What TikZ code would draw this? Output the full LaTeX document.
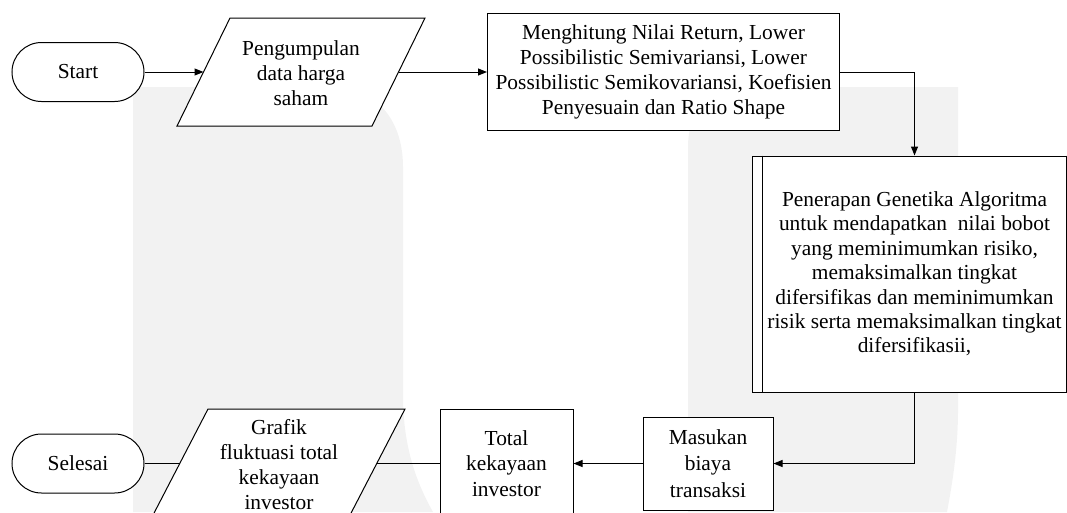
\documentclass[tikz,border=0pt]{standalone}
\usepackage{fontspec}
\setmainfont{Liberation Serif}
\usetikzlibrary{arrows.meta,calc}
\begin{document}
\begin{tikzpicture}[x=1pt,y=-1pt,
  every node/.style={font=\fontsize{21.4}{25}\selectfont, align=center, inner sep=0pt},
  proc/.style={draw, fill=white, line width=1pt},
  term/.style={draw, fill=white, line width=1pt, rounded corners=29.5pt, minimum width=132pt, minimum height=59pt},
  conn/.style={line width=1pt},
  arr/.style={conn, -{Triangle[length=9pt,width=7pt]}},
  wm/.style={fill=black!5, draw=none}]
\useasboundingbox (0,0) rectangle (1067,512);
\clip (0,0) rectangle (1067,512);
% watermark
\fill[wm] (133,87) -- (333,87) .. controls (373,87) and (403,117) .. (403,167) -- (403,395) .. controls (403,450) and (418,485) .. (433,512) -- (133,512) -- cycle;
\fill[wm] (688,512) -- (688,147) .. controls (688,112) and (708,87) .. (743,87) -- (958,87) -- (958,410) .. controls (958,450) and (952,485) .. (947,512) -- cycle;
% top row
\node[term] (start) at (78,72) {Start};
\draw[proc] (177,126) -- (230,18) -- (425,18) -- (372,126) -- cycle;
\node (p1) at (301,73) {Pengumpulan\\data harga\\saham};
\coordinate (p1w) at (203.5,72);
\coordinate (p1e) at (398.5,72);
\node[proc, minimum width=352pt, minimum height=117pt] (b2) at (663.5,72) {Menghitung Nilai Return, Lower\\Possibilistic Semivariansi, Lower\\Possibilistic Semikovariansi, Koefisien\\Penyesuain dan Ratio Shape};
% process box
\node[proc, minimum width=325pt, minimum height=236pt, font=\fontsize{21.4}{24.4}\selectfont] (b3) at (914.5,274) {Penerapan Genetika Algoritma\\untuk mendapatkan~ nilai bobot\\yang meminimumkan risiko,\\memaksimalkan tingkat\\difersifikas dan meminimumkan\\risik serta memaksimalkan tingkat\\difersifikasii,};
\draw[conn] ([xshift=11pt]b3.north west) -- ([xshift=11pt]b3.south west);
\draw[conn] ([xshift=-11pt]b3.north east) -- ([xshift=-11pt]b3.south east);
% bottom row
\node[proc, minimum width=130pt, minimum height=93pt, font=\fontsize{21.4}{26.5}\selectfont] (mas) at (708,463.5) {Masukan\\biaya\\transaksi};
\node[proc, minimum width=133pt, minimum height=108pt, font=\fontsize{21.4}{25.5}\selectfont] (tot) at (506.5,463.5) {Total\\kekayaan\\investor};
\draw[proc] (152,517) -- (208,409) -- (405,409) -- (349,517) -- cycle;
\node (p2) at (279,464.5) {Grafik\\fluktuasi total\\kekayaan\\investor};
\coordinate (p2w) at (180,463.5);
\coordinate (p2e) at (377,463.5);
\node[term] (sel) at (78,463.5) {Selesai};
% connectors
\draw[arr] (start.east) -- (p1w);
\draw[arr] (p1e) -- (b2.west);
\draw[arr] (b2.east) -| (b3.north);
\draw[arr] (b3.south) |- (mas.east);
\draw[arr] (mas.west) -- (tot.east);
\draw[conn] (tot.west) -- (p2e);
\draw[conn] (p2w) -- (sel.east);
\end{tikzpicture}
\end{document}
